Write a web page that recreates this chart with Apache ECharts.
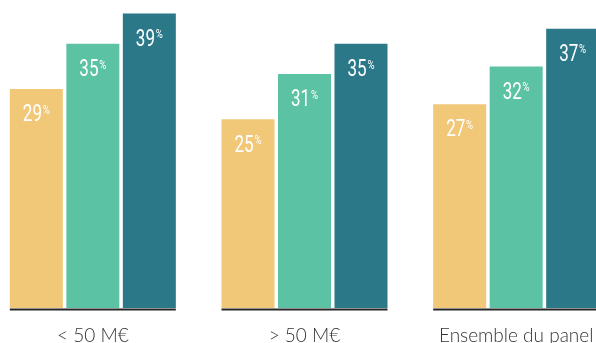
<!DOCTYPE html>
<html>
<head>
<meta charset="utf-8">
<script src="https://cdn.jsdelivr.net/npm/echarts@6/dist/echarts.min.js"></script>
<style>
  html, body { margin: 0; padding: 0; background: #ffffff; overflow: hidden; }
  #wrap { width: 596px; height: 343px; overflow: hidden; position: relative; }
  #chart { width: 635px; height: 343px; position: absolute; left: -13px; top: 0; }
</style>
</head>
<body>
<div id="wrap"><div id="chart"></div></div>
<script>
// Company size groups along the x axis
const categories = ['< 50 M€', '> 50 M€', 'Ensemble du panel'];
// Three series per group (percent)
const valuesFirst = [29, 25, 27];
const valuesSecond = [35, 31, 32];
const valuesThird = [39, 35, 37];

const colors = ['#F0C878', '#5BC3A3', '#2B7889'];
const barWidth = 53;
const barStep = 56.5;
const groupHalf = 83;

const labelFont = "'Roboto', 'Noto Sans', sans-serif";

function barSeries(values, color) {
  return {
    type: 'bar',
    data: values,
    barWidth: barWidth,
    barGap: '6.6%',
    itemStyle: { color: color },
    emphasis: { disabled: true },
    animation: false
  };
}

// Narrow white value labels placed inside the top of each bar
function labelSeries(values, slot) {
  return {
    type: 'custom',
    data: values.map(function (v, i) { return [i, v]; }),
    clip: false,
    z: 10,
    silent: true,
    renderItem: function (params, api) {
      const v = api.value(1);
      const p = api.coord([api.value(0), v]);
      return {
        type: 'text',
        x: p[0] + (slot - 1) * barStep,
        y: p[1] + 15,
        scaleX: 0.74,
        style: {
          text: '{n|' + v + '}{p|%}',
          x: 0,
          y: 0,
          align: 'center',
          verticalAlign: 'top',
          rich: {
            n: { fontFamily: labelFont, fontSize: 23, fontWeight: 400, fill: '#ffffff', lineHeight: 23 },
            p: { fontFamily: labelFont, fontSize: 13, fontWeight: 400, fill: '#ffffff', lineHeight: 13, verticalAlign: 'top', padding: [0, 0, 0, 1] }
          }
        }
      };
    }
  };
}

const chart = echarts.init(document.getElementById('chart'), null, { renderer: 'canvas' });
chart.setOption({
  backgroundColor: '#ffffff',
  animation: false,
  grid: { left: 0, right: 0, top: 6, bottom: 35, containLabel: false, outerBoundsMode: 'none' },
  xAxis: {
    type: 'category',
    data: categories,
    axisLine: { show: false },
    axisTick: { show: false },
    axisLabel: {
      margin: 18,
      fontFamily: "'Lato', 'Noto Sans', sans-serif",
      fontWeight: 300,
      fontSize: 19,
      color: '#333333'
    }
  },
  yAxis: {
    type: 'value',
    min: 0,
    max: 40,
    show: false,
    splitLine: { show: false }
  },
  series: [
    barSeries(valuesFirst, colors[0]),
    barSeries(valuesSecond, colors[1]),
    barSeries(valuesThird, colors[2]),
    labelSeries(valuesFirst, 0),
    labelSeries(valuesSecond, 1),
    labelSeries(valuesThird, 2),
    {
      // Dark baseline under each group of bars
      type: 'custom',
      data: categories.map(function (c, i) { return [i, 0]; }),
      clip: false,
      z: 5,
      silent: true,
      renderItem: function (params, api) {
        const p = api.coord([api.value(0), 0]);
        return {
          type: 'line',
          shape: { x1: p[0] - groupHalf, y1: p[1] + 1.5, x2: p[0] + groupHalf, y2: p[1] + 1.5 },
          style: { stroke: '#262626', lineWidth: 2 }
        };
      }
    }
  ]
});
</script>
</body>
</html>
